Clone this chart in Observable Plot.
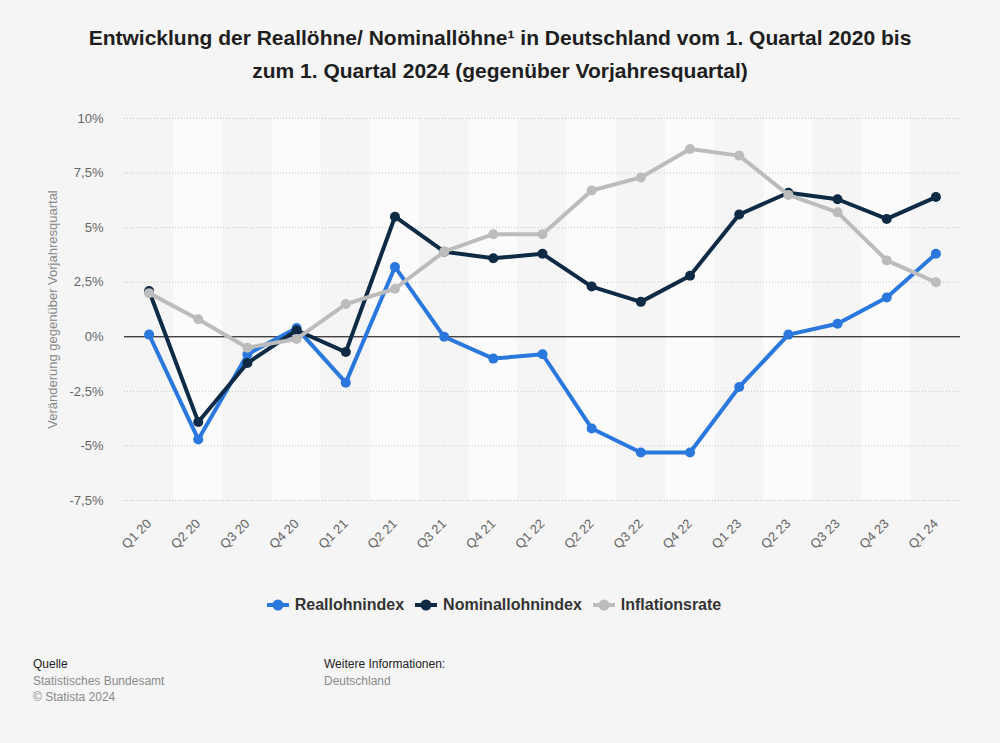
<!DOCTYPE html>
<html>
<head>
<meta charset="utf-8">
<script src="https://cdn.jsdelivr.net/npm/d3@7"></script>
<script src="https://cdn.jsdelivr.net/npm/@observablehq/plot@0.6"></script>
<style>
  html, body { margin: 0; padding: 0; background: #f5f5f5; }
  body { width: 1000px; height: 743px; position: relative; overflow: hidden; font-family: "Liberation Sans", Arial, sans-serif; }
  #title { position: absolute; top: 21px; left: 0; width: 1000px; text-align: center; font-weight: bold; font-size: 21px; line-height: 33px; color: #1e1e1e; }
  #chart { position: absolute; top: 100px; left: 0; }
  #legend { position: absolute; top: 595px; left: 0; width: 988px; display: flex; justify-content: center; gap: 11px; font-weight: bold; font-size: 16px; line-height: 20px; color: #333; }
  #legend .item { display: flex; align-items: center; gap: 6px; }
  .foot { position: absolute; font-size: 12px; line-height: 16.5px; color: #8a8a8a; }
  .foot b { font-weight: normal; color: #222; }
</style>
</head>
<body>
<div id="title">Entwicklung der Reallöhne/ Nominallöhne¹ in Deutschland vom 1. Quartal 2020 bis<br>zum 1. Quartal 2024 (gegenüber Vorjahresquartal)</div>
<div id="chart"></div>
<div id="legend"></div>
<div class="foot" style="left:33px; top:656px;"><b>Quelle</b><br>Statistisches Bundesamt<br>© Statista 2024</div>
<div class="foot" style="left:324px; top:656px;"><b>Weitere Informationen:</b><br>Deutschland</div>
<script>
const categories = ["Q1 20","Q2 20","Q3 20","Q4 20","Q1 21","Q2 21","Q3 21","Q4 21","Q1 22","Q2 22","Q3 22","Q4 22","Q1 23","Q2 23","Q3 23","Q4 23","Q1 24"];
const reallohn   = [0.1, -4.7, -0.8, 0.4, -2.1, 3.2, 0.0, -1.0, -0.8, -4.2, -5.3, -5.3, -2.3, 0.1, 0.6, 1.8, 3.8];
const nominallohn = [2.1, -3.9, -1.2, 0.3, -0.7, 5.5, 3.9, 3.6, 3.8, 2.3, 1.6, 2.8, 5.6, 6.6, 6.3, 5.4, 6.4];
const inflation  = [2.0, 0.8, -0.5, -0.1, 1.5, 2.2, 3.9, 4.7, 4.7, 6.7, 7.3, 8.6, 8.3, 6.5, 5.7, 3.5, 2.5];
const seriesNames = ["Reallohnindex", "Nominallohnindex", "Inflationsrate"];
const seriesColors = ["#2a78de", "#0e2a45", "#bcbcbc"];
const yTicks = [-7.5, -5, -2.5, 0, 2.5, 5, 7.5, 10];
const yLabel = "Veränderung gegenüber Vorjahresquartal";

const seriesValues = [reallohn, nominallohn, inflation];
const idx = d3.range(categories.length);
const rowsBySeries = seriesNames.map((name, s) => idx.map(i => ({i, series: name, value: seriesValues[s][i]})));
const bandIdx = idx.filter(i => i % 2 === 1);
const yMin = d3.min(yTicks), yMax = d3.max(yTicks);
const fmt = d => String(d).replace(".", ",") + "%";

const seriesMarks = rowsBySeries.flatMap((rows, s) => [
  Plot.line(rows, {x: "i", y: "value", stroke: seriesColors[s], strokeWidth: 4, strokeLinejoin: "round", strokeLinecap: "round"}),
  Plot.dot(rows, {x: "i", y: "value", fill: seriesColors[s], r: 5, stroke: "none"})
]);

const chart = Plot.plot({
  width: 1000,
  height: 460,
  marginTop: 18,
  marginBottom: 60,
  marginLeft: 124,
  marginRight: 40,
  style: {background: "transparent", fontFamily: "'Liberation Sans', Arial, sans-serif", fontSize: "13px", color: "#666"},
  x: {domain: [-0.5, categories.length - 0.5]},
  y: {domain: [yMin, yMax]},
  marks: [
    Plot.rect(bandIdx, {x1: i => i - 0.5, x2: i => i + 0.5, y1: yMin, y2: yMax, fill: "#fbfbfb"}),
    Plot.gridY(yTicks, {stroke: "#c4c4c4", strokeOpacity: 1, strokeDasharray: "1,2"}),
    Plot.ruleY([0], {stroke: "#000", strokeWidth: 1}),
    Plot.axisY(yTicks, {tickSize: 0, tickPadding: 21, tickFormat: fmt, label: null, fontSize: 13, fill: "#666"}),
    Plot.text([yLabel], {text: d => d, frameAnchor: "left", dx: -72, rotate: -90, textAnchor: "middle", fontSize: 13, fill: "#888"}),
    Plot.axisX(idx, {tickSize: 0, tickPadding: 21, tickRotate: -45, tickFormat: i => categories[i], label: null, fontSize: 13, fill: "#666"}),
    ...seriesMarks
  ]
});
document.getElementById("chart").appendChild(chart);

const legend = document.getElementById("legend");
seriesNames.forEach((name, s) => {
  const item = document.createElement("div");
  item.className = "item";
  item.innerHTML = `<svg width="22" height="12"><line x1="0" x2="22" y1="6" y2="6" stroke="${seriesColors[s]}" stroke-width="4"/><circle cx="11" cy="6" r="5.5" fill="${seriesColors[s]}"/></svg><span>${name}</span>`;
  legend.appendChild(item);
});
</script>
</body>
</html>
